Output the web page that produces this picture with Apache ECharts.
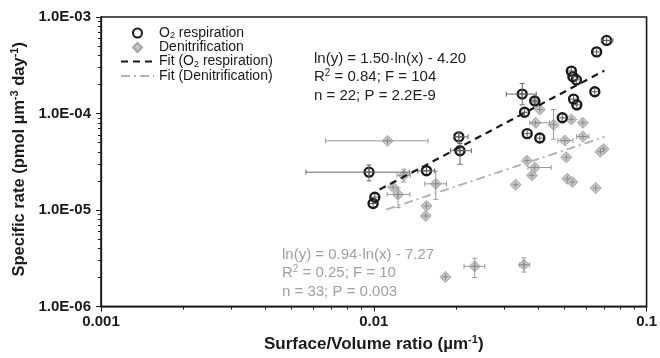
<!DOCTYPE html>
<html>
<head>
<meta charset="utf-8">
<script src="https://cdn.jsdelivr.net/npm/echarts@6/dist/echarts.min.js"></script>
<style>
  html, body { margin: 0; padding: 0; background: #fff; }
  #chart { width: 660px; height: 358px; }
</style>
</head>
<body>
<div id="chart"></div>
<script>
// O2 respiration points (surface/volume ratio, specific rate) + error bar ends (null = none drawn)
const o2X   = [0.0714, 0.0656, 0.0530, 0.0537, 0.0553, 0.0646, 0.0350, 0.0540, 0.0555, 0.0389, 0.0357, 0.0491, 0.0365, 0.0406, 0.0205, 0.0207, 0.0156, 0.00961, 0.01009, 0.00994];
const o2Y   = [5.72e-4, 4.35e-4, 2.75e-4, 2.41e-4, 2.23e-4, 1.68e-4, 1.59e-4, 1.41e-4, 1.23e-4, 1.35e-4, 1.03e-4, 9.03e-5, 6.19e-5, 5.57e-5, 5.73e-5, 4.12e-5, 2.55e-5, 2.47e-5, 1.36e-5, 1.17e-5];
const o2XLo = [0.0682, null, null, null, null, null, 0.0306, null, null, null, null, null, null, null, 0.01963, 0.0191, 0.01449, 0.00564, null, null];
const o2XHi = [0.0753, null, null, null, null, null, 0.0394, null, null, null, null, null, null, null, 0.02215, 0.0228, 0.01673, 0.0135, null, null];
const o2YLo = [null, null, null, null, null, null, 1.23e-4, null, null, null, null, null, null, null, 5.09e-5, 2.98e-5, null, 2.01e-5, null, null];
const o2YHi = [null, null, null, null, null, null, 2.05e-4, null, null, null, null, null, null, null, 6.45e-5, 4.89e-5, null, 2.93e-5, null, null];

// Denitrification points
const denX   = [0.01123, 0.01288, 0.01177, 0.01227, 0.01687, 0.0156, 0.0155, 0.01831, 0.02344, 0.0355, 0.0331, 0.0364, 0.0389, 0.0380, 0.0502, 0.0584, 0.0696, 0.0677, 0.0508, 0.0512, 0.0534, 0.0651, 0.0406, 0.0392, 0.0456, 0.0530, 0.0584, 0.0392];
const denY   = [5.21e-5, 2.29e-5, 1.73e-5, 1.45e-5, 1.87e-5, 1.10e-5, 8.69e-6, 2.03e-6, 2.61e-6, 2.71e-6, 1.83e-5, 3.25e-5, 2.76e-5, 2.29e-5, 5.25e-5, 5.77e-5, 4.28e-5, 4.02e-5, 3.52e-5, 2.11e-5, 1.95e-5, 1.69e-5, 1.10e-4, 8.02e-5, 7.66e-5, 8.68e-5, 8.02e-5, 1.32e-4];
const denXLo = [0.00665, 0.01218, null, 0.01119, 0.01538, null, null, null, 0.02142, 0.03426, null, null, 0.03675, null, 0.0473, 0.0553, null, null, null, null, null, null, null, 0.0373, null, null, null, null];
const denXHi = [0.0158, 0.01362, null, 0.01358, 0.01847, null, null, null, 0.02551, 0.03727, null, null, 0.04469, null, 0.0537, 0.0615, null, null, null, null, null, null, null, 0.0441, null, null, null, null];
const denYLo = [null, 1.95e-5, null, 1.06e-5, 1.29e-5, null, null, null, 2.0e-6, 2.28e-6, null, null, null, null, null, null, null, null, null, null, null, null, null, null, 5.42e-5, null, null, null];
const denYHi = [null, 2.65e-5, null, 1.69e-5, 2.53e-5, null, null, null, 3.17e-6, 3.2e-6, null, null, null, null, null, null, null, null, null, null, null, null, null, null, 1.10e-4, null, null, null];

// fit lines, end points
const fitO2X  = [0.0105, 0.070];
const fitO2Y  = [1.63e-5, 2.78e-4];
const fitDenX = [0.0111, 0.0702];
const fitDenY = [1.01e-5, 5.73e-5];

// axis ticks
const xTickLabels = ['0.001', '0.01', '0.1'];
const yTickLabels = ['1.0E-06', '1.0E-05', '1.0E-04', '1.0E-03'];
const xMinorTicks = [0.002, 0.003, 0.004, 0.005, 0.006, 0.007, 0.008, 0.009, 0.02, 0.03, 0.04, 0.05, 0.06, 0.07, 0.08, 0.09];
const yMinorTicks = [2e-6, 3e-6, 4e-6, 5e-6, 6e-6, 7e-6, 8e-6, 9e-6, 2e-5, 3e-5, 4e-5, 5e-5, 6e-5, 7e-5, 8e-5, 9e-5, 2e-4, 3e-4, 4e-4, 5e-4, 6e-4, 7e-4, 8e-4, 9e-4];

const FONT = 'Liberation Sans, Arial, sans-serif';
const INK = '#1a1a1a';

function zip(xs, ys) {
  return xs.map((x, i) => [x, ys[i]]);
}

function errorRows(xs, ys, xlo, xhi, ylo, yhi) {
  return xs.map((x, i) => [x, ys[i], xlo[i], xhi[i], ylo[i], yhi[i]]);
}

function missing(v) {
  return v == null || isNaN(v);
}

function errorBarRenderer(barColor, crossColor) {
  return function (params, api) {
    const x = api.value(0);
    const y = api.value(1);
    const c = api.coord([x, y]);
    const cap = 2.5;
    const bar = { stroke: barColor, lineWidth: 1 };
    const seg = (x1, y1, x2, y2, style) => ({ type: 'line', shape: { x1, y1, x2, y2 }, style });
    const children = [];

    const xlo = api.value(2), xhi = api.value(3);
    if (!missing(xlo) && !missing(xhi)) {
      const a = api.coord([xlo, y])[0];
      const b = api.coord([xhi, y])[0];
      children.push(seg(a, c[1], b, c[1], bar));
      children.push(seg(a, c[1] - cap, a, c[1] + cap, bar));
      children.push(seg(b, c[1] - cap, b, c[1] + cap, bar));
    }
    const ylo = api.value(4), yhi = api.value(5);
    if (!missing(ylo) && !missing(yhi)) {
      const a = api.coord([x, ylo])[1];
      const b = api.coord([x, yhi])[1];
      children.push(seg(c[0], a, c[0], b, bar));
      children.push(seg(c[0] - cap, a, c[0] + cap, a, bar));
      children.push(seg(c[0] - cap, b, c[0] + cap, b, bar));
    }
    // small cross inside the marker
    const cross = { stroke: crossColor, lineWidth: 1 };
    children.push(seg(c[0] - 3, c[1], c[0] + 3, c[1], cross));
    children.push(seg(c[0], c[1] - 3, c[0], c[1] + 3, cross));

    return { type: 'group', children };
  };
}

const chart = echarts.init(document.getElementById('chart'), null, { renderer: 'canvas' });

function nameRich(size) {
  return {
    b: { fontFamily: FONT, fontSize: size, fontWeight: 'bold', color: INK, lineHeight: 20 },
    sp: { fontFamily: FONT, fontSize: 11, fontWeight: 'bold', color: INK, lineHeight: 20, verticalAlign: 'top' }
  };
}

const legendRich = {
  t: { fontFamily: FONT, fontSize: 14, color: INK, lineHeight: 15 },
  s: { fontFamily: FONT, fontSize: 9, color: INK, lineHeight: 15, verticalAlign: 'bottom' }
};

function annotationRich(color) {
  return {
    t: { fontFamily: FONT, fontSize: 15, fill: color, lineHeight: 18.5 },
    p: { fontFamily: FONT, fontSize: 10, fill: color, lineHeight: 18.5, verticalAlign: 'top' }
  };
}

const option = {
  backgroundColor: '#fff',
  animation: false,
  grid: {
    left: 101,
    right: 12,
    top: 17,
    bottom: 48,
    show: true,
    borderColor: INK,
    borderWidth: 1.6
  },
  legend: {
    orient: 'vertical',
    left: 115,
    top: 21,
    itemWidth: 33,
    itemHeight: 9,
    itemGap: 0,
    symbolKeepAspect: true,
    data: [
      { name: 'O2 respiration' },
      { name: 'Denitrification', icon: 'path://M0,-1L1,0L0,1L-1,0Z' },
      { name: 'Fit (O2 respiration)', itemStyle: { opacity: 0 } },
      { name: 'Fit (Denitrification)', itemStyle: { opacity: 0 } }
    ],
    formatter(name) {
      return name.split('O2').map((part) => `{t|${part}}`).join('{t|O}{s|2}').replace(/\{t\|\}/g, '');
    },
    textStyle: { fontFamily: FONT, fontSize: 14, color: INK, rich: legendRich }
  },
  xAxis: [
    {
      type: 'log',
      logBase: 10,
      min: 0.001,
      max: 0.1,
      position: 'bottom',
      name: '{b|Surface/Volume ratio (µm}{sp|-1}{b|)}',
      nameLocation: 'middle',
      nameGap: 25,
      nameTextStyle: { rich: nameRich(17) },
      axisLine: { onZero: false, lineStyle: { color: INK, width: 1.3 } },
      axisTick: { length: 5, lineStyle: { color: INK, width: 1 } },
      axisLabel: {
        margin: 8,
        fontFamily: FONT,
        fontSize: 15,
        fontWeight: 'bold',
        color: INK,
        formatter: (v) => xTickLabels[Math.round(Math.log10(v)) + 3]
      },
      splitLine: { show: false }
    },
    {
      type: 'log',
      logBase: 10,
      min: 0.001,
      max: 0.1,
      position: 'bottom',
      axisLine: { show: false, onZero: false },
      axisTick: { customValues: xMinorTicks, length: 3, lineStyle: { color: INK, width: 1 } },
      axisLabel: { show: false },
      splitLine: { show: false }
    }
  ],
  yAxis: [
    {
      type: 'log',
      logBase: 10,
      min: 1e-6,
      max: 1e-3,
      position: 'left',
      name: '{b|Specific rate (pmol µm}{sp|-3}{b| day}{sp|-1}{b|)}',
      nameLocation: 'middle',
      nameGap: 69,
      nameTextStyle: { rich: nameRich(16.5), padding: [0, 0, 0, 5] },
      axisLine: { onZero: false, lineStyle: { color: INK, width: 1.3 } },
      axisTick: { length: 5, lineStyle: { color: INK, width: 1 } },
      axisLabel: {
        margin: 10,
        fontFamily: FONT,
        fontSize: 15,
        fontWeight: 'bold',
        color: INK,
        formatter: (v) => yTickLabels[Math.round(Math.log10(v)) + 6]
      },
      splitLine: { show: false }
    },
    {
      type: 'log',
      logBase: 10,
      min: 1e-6,
      max: 1e-3,
      position: 'left',
      axisLine: { show: false, onZero: false },
      axisTick: { customValues: yMinorTicks, length: 3, lineStyle: { color: INK, width: 1 } },
      axisLabel: { show: false },
      splitLine: { show: false }
    }
  ],
  graphic: [
    {
      type: 'text',
      left: 314,
      top: 51,
      style: {
        text: '{t|ln(y) = 1.50·ln(x) - 4.20}\n{t|R}{p|2}{t| = 0.84; F = 104}\n{t|n = 22; P = 2.2E-9}',
        rich: annotationRich('#222222')
      }
    },
    {
      type: 'text',
      left: 282,
      top: 247,
      style: {
        text: '{t|ln(y) = 0.94·ln(x) - 7.27}\n{t|R}{p|2}{t| = 0.25; F = 10}\n{t|n = 33; P = 0.003}',
        rich: annotationRich('#a0a0a0')
      }
    }
  ],
  series: [
    {
      name: 'Denitrification',
      type: 'scatter',
      symbol: 'diamond',
      symbolSize: 11,
      data: zip(denX, denY),
      itemStyle: { color: '#c6c6c6', borderColor: '#a4a4a4', borderWidth: 1, opacity: 1 },
      z: 2
    },
    {
      name: 'denErr',
      type: 'custom',
      renderItem: errorBarRenderer('#9a9a9a', '#8a8a8a'),
      encode: { x: 0, y: 1 },
      data: errorRows(denX, denY, denXLo, denXHi, denYLo, denYHi),
      z: 3
    },
    {
      name: 'O2 respiration',
      type: 'scatter',
      symbol: 'circle',
      symbolSize: 9,
      data: zip(o2X, o2Y),
      itemStyle: { color: 'rgba(255,255,255,0)', borderColor: INK, borderWidth: 2.4, opacity: 1 },
      z: 4
    },
    {
      name: 'o2Err',
      type: 'custom',
      renderItem: errorBarRenderer('#666666', '#555555'),
      encode: { x: 0, y: 1 },
      data: errorRows(o2X, o2Y, o2XLo, o2XHi, o2YLo, o2YHi),
      z: 5
    },
    {
      name: 'Fit (O2 respiration)',
      type: 'line',
      symbol: 'none',
      data: zip(fitO2X, fitO2Y),
      itemStyle: { color: INK },
      lineStyle: { color: INK, width: 2.2, type: [7, 5] },
      z: 6
    },
    {
      name: 'Fit (Denitrification)',
      type: 'line',
      symbol: 'none',
      data: zip(fitDenX, fitDenY),
      itemStyle: { color: '#b4b4b4' },
      lineStyle: { color: '#b4b4b4', width: 2, type: [9, 4, 2, 4] },
      z: 6
    }
  ]
};

chart.setOption(option);
</script>
</body>
</html>
